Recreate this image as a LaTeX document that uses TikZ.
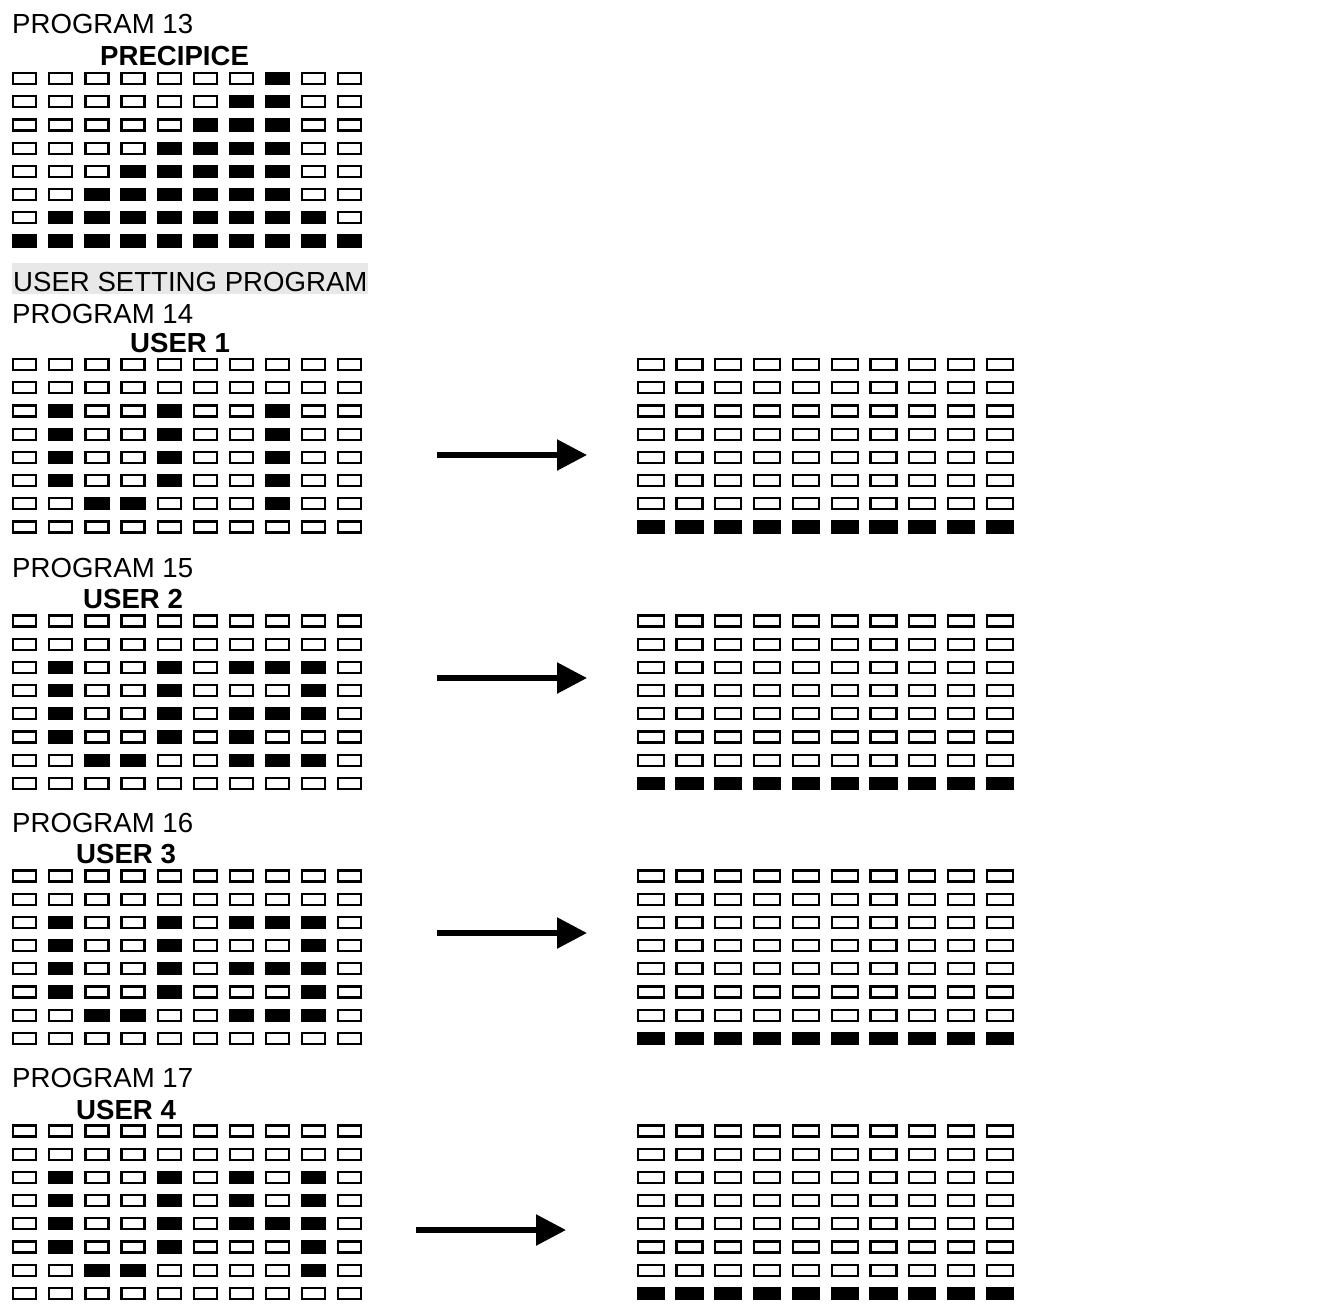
\documentclass[tikz,border=0pt]{standalone}
\usepackage{fontspec}
\setmainfont{Liberation Sans}
\usepackage{tikz}
\usetikzlibrary{arrows.meta}

\tikzset{
  celloff/.style={draw=black, fill=white, line width=2.2pt},
  cellon/.style={draw=black, fill=black, line width=2.2pt},
  lbl/.style={anchor=base west, inner sep=0pt},
  ttl/.style={anchor=base west, inner sep=0pt, font=\fontsize{27.6}{30}\selectfont\bfseries},
  arr/.style={line width=5.5pt, -{Triangle[length=30pt,width=30pt]}}
}

% x of first cell centre, y of top row centre, column step, cell width, lit cells (col/row)
\newcommand{\ledgrid}[5]{%
  \foreach \c in {0,...,9}
    \foreach \r in {0,...,7}
      \draw[celloff] ({#1+\c*#3-#4/2},{#2+\r*23.2-5.5}) rectangle ++(#4,11);
  \foreach \c/\r in {#5}
    \draw[cellon] ({#1+(\c-1)*#3-#4/2},{#2+(\r-1)*23.2-5.5}) rectangle ++(#4,11);
}

\begin{document}
\begin{tikzpicture}[x=1pt, y=-1pt, font=\fontsize{27.6}{30}\selectfont]
  \useasboundingbox (0,0) rectangle (1329,1315);

  % program 13
  \node[lbl] (p13) at (12,33) {PROGRAM 13};
  \node[ttl] (t13) at (100,65) {PRECIPICE};
  \ledgrid{24.7}{78.5}{36.1}{23}{8/1, 7/2,8/2, 6/3,7/3,8/3, 5/4,6/4,7/4,8/4,
    4/5,5/5,6/5,7/5,8/5, 3/6,4/6,5/6,6/6,7/6,8/6,
    2/7,3/7,4/7,5/7,6/7,7/7,8/7,9/7,
    1/8,2/8,3/8,4/8,5/8,6/8,7/8,8/8,9/8,10/8}

  \node[lbl, fill=gray!18, inner xsep=1pt, text height=28pt, text depth=3pt] (usr) at (12,291) {USER SETTING PROGRAM};

  % program 14
  \node[lbl] (p14) at (12,323) {PROGRAM 14};
  \node[ttl] (t14) at (130,352) {USER 1};
  \ledgrid{24.7}{364.5}{36.1}{23}{2/3,5/3,8/3, 2/4,5/4,8/4, 2/5,5/5,8/5,
    2/6,5/6,8/6, 3/7,4/7,8/7}
  \coordinate (a14s) at (437,455);
  \coordinate (a14e) at (587,455);
  \draw[arr] (a14s) -- (a14e);
  \ledgrid{650.7}{364.5}{38.8}{26}{1/8,2/8,3/8,4/8,5/8,6/8,7/8,8/8,9/8,10/8}

  % program 15
  \node[lbl] (p15) at (12,577) {PROGRAM 15};
  \node[ttl] (t15) at (83,608) {USER 2};
  \ledgrid{24.7}{621}{36.1}{23}{2/3,5/3,7/3,8/3,9/3, 2/4,5/4,9/4,
    2/5,5/5,7/5,8/5,9/5, 2/6,5/6,7/6, 3/7,4/7,7/7,8/7,9/7}
  \coordinate (a15s) at (437,678);
  \coordinate (a15e) at (587,678);
  \draw[arr] (a15s) -- (a15e);
  \ledgrid{650.7}{621}{38.8}{26}{1/8,2/8,3/8,4/8,5/8,6/8,7/8,8/8,9/8,10/8}

  % program 16
  \node[lbl] (p16) at (12,832) {PROGRAM 16};
  \node[ttl] (t16) at (76,863) {USER 3};
  \ledgrid{24.7}{876}{36.1}{23}{2/3,5/3,7/3,8/3,9/3, 2/4,5/4,9/4,
    2/5,5/5,7/5,8/5,9/5, 2/6,5/6,9/6, 3/7,4/7,7/7,8/7,9/7}
  \coordinate (a16s) at (437,933);
  \coordinate (a16e) at (587,933);
  \draw[arr] (a16s) -- (a16e);
  \ledgrid{650.7}{876}{38.8}{26}{1/8,2/8,3/8,4/8,5/8,6/8,7/8,8/8,9/8,10/8}

  % program 17
  \node[lbl] (p17) at (12,1087) {PROGRAM 17};
  \node[ttl] (t17) at (76,1119) {USER 4};
  \ledgrid{24.7}{1131}{36.1}{23}{2/3,5/3,7/3,9/3, 2/4,5/4,7/4,9/4,
    2/5,5/5,7/5,8/5,9/5, 2/6,5/6,9/6, 3/7,4/7,9/7}
  \coordinate (a17s) at (416,1230);
  \coordinate (a17e) at (566,1230);
  \draw[arr] (a17s) -- (a17e);
  \ledgrid{650.7}{1131}{38.8}{26}{1/8,2/8,3/8,4/8,5/8,6/8,7/8,8/8,9/8,10/8}
\end{tikzpicture}
\end{document}
